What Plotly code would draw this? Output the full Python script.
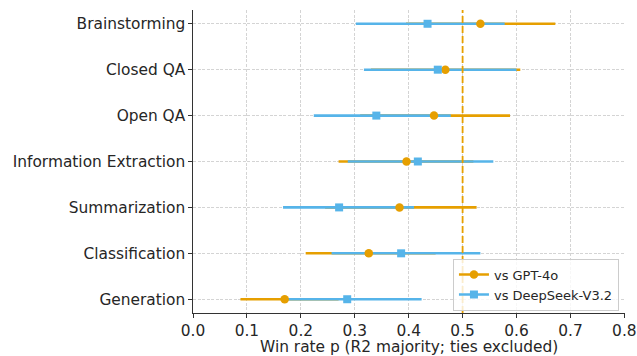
import plotly.graph_objects as go

categories = ["Brainstorming", "Closed QA", "Open QA", "Information Extraction",
              "Summarization", "Classification", "Generation"]

# vs GPT-4o
gpt_p = [0.533, 0.468, 0.447, 0.396, 0.383, 0.326, 0.170]
gpt_lo = [0.395, 0.330, 0.310, 0.270, 0.245, 0.209, 0.088]
gpt_hi = [0.672, 0.607, 0.588, 0.520, 0.526, 0.450, 0.270]

# vs DeepSeek-V3.2
ds_p = [0.435, 0.454, 0.340, 0.417, 0.271, 0.386, 0.286]
ds_lo = [0.302, 0.317, 0.224, 0.287, 0.167, 0.257, 0.172]
ds_hi = [0.578, 0.600, 0.478, 0.557, 0.410, 0.533, 0.424]

x_ticks = [0.0, 0.1, 0.2, 0.3, 0.4, 0.5, 0.6, 0.7, 0.8]
x_title = "Win rate p (R2 majority; ties excluded)"

ORANGE = "#E69F00"
BLUE = "#56B4E9"
FONT = "DejaVu Sans"

fig = go.Figure()

def err_trace(p, lo, hi, color):
    return go.Scatter(
        x=p, y=categories, mode="markers",
        marker=dict(size=1, opacity=0, color=color),
        error_x=dict(type="data", symmetric=False,
                     array=[h - v for h, v in zip(hi, p)],
                     arrayminus=[v - l for v, l in zip(p, lo)],
                     width=0, thickness=2.6, color=color),
        showlegend=False, hoverinfo="skip")

fig.add_trace(err_trace(gpt_p, gpt_lo, gpt_hi, ORANGE))
fig.add_trace(err_trace(ds_p, ds_lo, ds_hi, BLUE))

fig.add_trace(go.Scatter(x=gpt_p, y=categories, mode="markers",
                         marker=dict(symbol="circle", size=8.5, color=ORANGE),
                         showlegend=False))
fig.add_trace(go.Scatter(x=ds_p, y=categories, mode="markers",
                         marker=dict(symbol="square", size=8, color=BLUE),
                         showlegend=False))

# legend entries
fig.add_trace(go.Scatter(x=[None], y=[None], mode="lines+markers", name="vs GPT-4o",
                         line=dict(color=ORANGE, width=2.6),
                         marker=dict(symbol="circle", size=8.5, color=ORANGE)))
fig.add_trace(go.Scatter(x=[None], y=[None], mode="lines+markers", name="vs DeepSeek-V3.2",
                         line=dict(color=BLUE, width=2.6),
                         marker=dict(symbol="square", size=8, color=BLUE)))

fig.add_shape(type="line", xref="x", yref="paper", x0=0.5, x1=0.5, y0=0, y1=1,
              line=dict(color=ORANGE, width=1.8, dash="7px,3px"), layer="above")

fig.add_annotation(text=x_title, xref="paper", yref="paper", x=0.5, y=0,
                   xanchor="center", yanchor="middle", yshift=-34, showarrow=False,
                   font=dict(size=15.4, family=FONT, color="#262626"))

fig.update_layout(
    width=637, height=356,
    margin=dict(l=193, r=12, t=10, b=43),
    paper_bgcolor="white", plot_bgcolor="white",
    font=dict(family=FONT, size=15.4, color="#262626"),
    legend=dict(x=0.986, xanchor="right", y=0.008, yanchor="bottom",
                bgcolor="rgba(255,255,255,0.8)", bordercolor="#cccccc", borderwidth=1,
                font=dict(size=13, family=FONT, color="#262626"),
                itemwidth=30, tracegroupgap=0),
)

fig.update_xaxes(
    range=[0, 0.8012], tickvals=x_ticks, ticktext=[f"{v:.1f}" for v in x_ticks],
    showgrid=True, gridcolor="#d4d4d4", griddash="3px,1.5px", gridwidth=0.8,
    showline=True, linecolor="#333333", linewidth=1.25,
    ticks="outside", ticklen=3.5, tickcolor="#333333", tickwidth=1,
    zeroline=False, automargin=False, ticklabeloverflow="allow",
)
fig.update_yaxes(
    type="category", categoryorder="array", categoryarray=categories,
    range=[6.3, -0.3],
    showgrid=True, gridcolor="#d4d4d4", griddash="3px,1.5px", gridwidth=0.8,
    showline=True, linecolor="#333333", linewidth=1.25,
    ticks="outside", ticklen=3.5, tickcolor="#333333", tickwidth=1,
    zeroline=False, automargin=False,
)

fig.write_html("out.html", config={"displayModeBar": False},
               post_script="document.body.style.margin='0';document.body.style.overflow='hidden';")
